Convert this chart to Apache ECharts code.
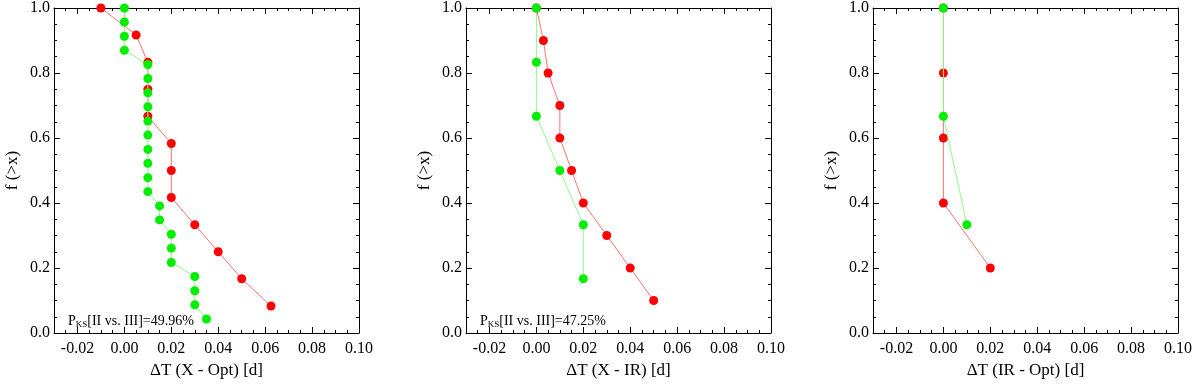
<!DOCTYPE html>
<html>
<head>
<meta charset="utf-8">
<script src="https://cdn.jsdelivr.net/npm/echarts@6/dist/echarts.min.js"></script>
<style>
  html, body { margin: 0; padding: 0; background: #fff; }
  #chart-container { width: 1200px; height: 384px; }
</style>
</head>
<body>
<div id="chart-container"></div>
<script>
// tick labels
const xTicks = [-0.02, 0.00, 0.02, 0.04, 0.06, 0.08, 0.10];
const xNames = ['ΔT (X - Opt) [d]', 'ΔT (X - IR) [d]', 'ΔT (IR - Opt) [d]'];
const yName = 'f (>x)';
const ksValues = ['49.96%', '47.25%', null];

// panel 1: X - Opt
const optRedX = [-0.01, 0.005, 0.01, 0.01, 0.01, 0.02, 0.02, 0.02, 0.03, 0.04, 0.05, 0.0625];
const optRedY = [1.0, 0.917, 0.833, 0.75, 0.667, 0.583, 0.5, 0.417, 0.333, 0.25, 0.167, 0.083];
const optGreenX = [0, 0, 0, 0, 0.01, 0.01, 0.01, 0.01, 0.01, 0.01, 0.01, 0.01, 0.01, 0.01,
                   0.015, 0.015, 0.02, 0.02, 0.02, 0.03, 0.03, 0.03, 0.035];
const optGreenY = [1.0, 0.957, 0.913, 0.870, 0.826, 0.783, 0.739, 0.696, 0.652, 0.609, 0.565, 0.522,
                   0.478, 0.435, 0.391, 0.348, 0.304, 0.261, 0.217, 0.174, 0.130, 0.087, 0.043];

// panel 2: X - IR
const irRedX = [0, 0.003, 0.005, 0.01, 0.01, 0.015, 0.02, 0.03, 0.04, 0.05];
const irRedY = [1.0, 0.9, 0.8, 0.7, 0.6, 0.5, 0.4, 0.3, 0.2, 0.1];
const irGreenX = [0, 0, 0, 0.01, 0.02, 0.02];
const irGreenY = [1.0, 0.833, 0.667, 0.5, 0.333, 0.167];

// panel 3: IR - Opt
const ioRedX = [0, 0, 0, 0, 0.02];
const ioRedY = [1.0, 0.8, 0.6, 0.4, 0.2];
const ioGreenX = [0, 0, 0.01];
const ioGreenY = [1.0, 0.667, 0.333];

const panels = [
    { red: [optRedX, optRedY], green: [optGreenX, optGreenY] },
    { red: [irRedX, irRedY], green: [irGreenX, irGreenY] },
    { red: [ioRedX, ioRedY], green: [ioGreenX, ioGreenY] }
];

const gridLefts = [54, 466, 873];
const FONT = 'Liberation Serif';

function pairs(xs, ys) {
    return xs.map((x, i) => [x, ys[i]]);
}

var dom = document.getElementById('chart-container');
var myChart = echarts.init(dom, null, { renderer: 'canvas' });

const grids = [], xAxes = [], yAxes = [], series = [], graphics = [];

panels.forEach((p, i) => {
    grids.push({ left: gridLefts[i], width: 305, top: 4, height: 333 });

    const base = { gridIndex: i, type: 'value', min: -0.03, max: 0.10, splitLine: { show: false } };
    // bottom, major ticks + labels
    const bottomIdx = xAxes.length;
    xAxes.push(Object.assign({}, base, {
        position: 'bottom',
        name: xNames[i], nameLocation: 'middle', nameGap: 29,
        nameTextStyle: { fontFamily: FONT, fontSize: 17, color: '#000' },
        axisLine: { onZero: false, lineStyle: { color: '#000', width: 1 } },
        axisTick: { inside: true, length: 6, customValues: xTicks, lineStyle: { color: '#000' } },
        axisLabel: { customValues: xTicks, margin: 8, fontFamily: FONT, fontSize: 16, color: '#000',
                     formatter: v => v.toFixed(2) }
    }));
    // bottom, minor ticks
    xAxes.push(Object.assign({}, base, {
        position: 'bottom', interval: 0.005,
        axisLine: { show: false, onZero: false },
        axisTick: { inside: true, length: 3, lineStyle: { color: '#000' } },
        axisLabel: { show: false }
    }));
    // top mirror
    xAxes.push(Object.assign({}, base, {
        position: 'top',
        axisLine: { onZero: false, lineStyle: { color: '#000', width: 1 } },
        axisTick: { inside: true, length: 6, customValues: xTicks, lineStyle: { color: '#000' } },
        axisLabel: { show: false }
    }));
    xAxes.push(Object.assign({}, base, {
        position: 'top', interval: 0.005,
        axisLine: { show: false, onZero: false },
        axisTick: { inside: true, length: 3, lineStyle: { color: '#000' } },
        axisLabel: { show: false }
    }));

    const ybase = { gridIndex: i, type: 'value', min: 0, max: 1, interval: 0.2, splitLine: { show: false },
                    minorTick: { show: true, splitNumber: 4, length: 3, lineStyle: { color: '#000' } } };
    const leftIdx = yAxes.length;
    yAxes.push(Object.assign({}, ybase, {
        position: 'left',
        name: yName, nameLocation: 'middle', nameGap: 33,
        nameTextStyle: { fontFamily: FONT, fontSize: 17, color: '#000' },
        axisLine: { onZero: false, lineStyle: { color: '#000', width: 1 } },
        axisTick: { inside: true, length: 6, lineStyle: { color: '#000' } },
        axisLabel: { margin: 4, fontFamily: FONT, fontSize: 16, color: '#000', formatter: v => v.toFixed(1) }
    }));
    yAxes.push(Object.assign({}, ybase, {
        position: 'right',
        axisLine: { onZero: false, lineStyle: { color: '#000', width: 1 } },
        axisTick: { inside: true, length: 6, lineStyle: { color: '#000' } },
        axisLabel: { show: false }
    }));

    series.push({
        type: 'line', xAxisIndex: bottomIdx, yAxisIndex: leftIdx,
        data: pairs(p.red[0], p.red[1]),
        symbol: 'circle', symbolSize: 9, showSymbol: true,
        itemStyle: { color: '#ff0000' },
        lineStyle: { color: '#ff7070', width: 1 },
        animation: false, z: 2
    });
    series.push({
        type: 'line', xAxisIndex: bottomIdx, yAxisIndex: leftIdx,
        data: pairs(p.green[0], p.green[1]),
        symbol: 'circle', symbolSize: 9, showSymbol: true,
        itemStyle: { color: '#00ee00' },
        lineStyle: { color: '#88ff88', width: 1 },
        animation: false, z: 3
    });

    if (ksValues[i]) {
        graphics.push({
            type: 'text', left: gridLefts[i] + 14, top: 314,
            style: {
                text: '{p|P}{sub|KS}{p|[II vs. III]=' + ksValues[i] + '}',
                rich: {
                    p: { fontFamily: FONT, fontSize: 14, fill: '#000' },
                    sub: { fontFamily: FONT, fontSize: 9, fill: '#000', padding: [8, 0, 0, 0] }
                }
            }
        });
    }
});

var option = {
    animation: false,
    grid: grids,
    xAxis: xAxes,
    yAxis: yAxes,
    series: series,
    graphic: graphics
};

myChart.setOption(option);
</script>
</body>
</html>
